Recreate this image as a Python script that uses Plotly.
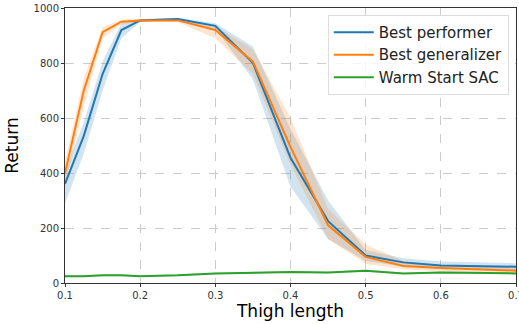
import plotly.graph_objects as go

thigh = [0.1, 0.125, 0.15, 0.175, 0.2, 0.25, 0.3, 0.35, 0.4, 0.45, 0.5, 0.55, 0.6, 0.7]

perf_mean = [360, 535, 760, 920, 955, 960, 935, 800, 455, 225, 100, 75, 64, 59]
perf_low = [290, 470, 700, 890, 950, 955, 925, 740, 350, 160, 80, 60, 50, 45]
perf_high = [410, 585, 805, 945, 960, 965, 945, 860, 560, 300, 120, 90, 78, 72]

gen_mean = [400, 700, 912, 950, 955, 955, 920, 805, 495, 210, 95, 62, 55, 45]
gen_low = [360, 640, 890, 940, 950, 948, 890, 760, 430, 160, 70, 50, 42, 35]
gen_high = [440, 745, 930, 958, 960, 960, 935, 850, 600, 270, 140, 80, 65, 55]

sac_mean = [25, 25, 28, 28, 25, 28, 35, 38, 40, 38, 45, 35, 38, 35]
sac_low = [22, 22, 25, 25, 22, 25, 32, 35, 36, 35, 41, 32, 35, 32]
sac_high = [28, 28, 31, 31, 28, 31, 38, 41, 44, 41, 49, 38, 41, 38]

x_ticks = [0.1, 0.2, 0.3, 0.4, 0.5, 0.6, 0.7]
x_tick_labels = ["0.1", "0.2", "0.3", "0.4", "0.5", "0.6", "0.7"]
y_ticks = [0, 200, 400, 600, 800, 1000]

series = [
    ("Best performer", perf_mean, perf_low, perf_high, "#1f77b4", "rgba(31,119,180,0.2)"),
    ("Best generalizer", gen_mean, gen_low, gen_high, "#ff7f0e", "rgba(255,127,14,0.2)"),
    ("Warm Start SAC", sac_mean, sac_low, sac_high, "#2ca02c", "rgba(44,160,44,0.2)"),
]

fig = go.Figure()
for name, m, lo, hi, col, fill in series:
    fig.add_trace(go.Scatter(x=thigh, y=lo, mode="lines", line=dict(width=0),
                             showlegend=False, hoverinfo="skip"))
    fig.add_trace(go.Scatter(x=thigh, y=hi, mode="lines", line=dict(width=0),
                             fill="tonexty", fillcolor=fill, showlegend=False, hoverinfo="skip"))
for name, m, lo, hi, col, fill in series:
    fig.add_trace(go.Scatter(x=thigh, y=m, mode="lines", name=name,
                             line=dict(color=col, width=2)))

axis_common = dict(
    showline=True, linecolor="#333333", linewidth=1, mirror=True,
    showgrid=True, gridcolor="#cccccc", griddash="dash", gridwidth=1,
    ticks="outside", ticklen=3, tickcolor="#333333",
    tickfont=dict(family="DejaVu Sans", size=10, color="#333333"),
    zeroline=False, ticklabeloverflow="allow", automargin=False,
)

fig.update_layout(
    width=519, height=324,
    margin=dict(l=65, r=3, t=8, b=41),
    paper_bgcolor="white", plot_bgcolor="white",
    xaxis=dict(range=[0.1, 0.7], tickvals=x_ticks, ticktext=x_tick_labels,
               title=dict(text="Thigh length", font=dict(family="DejaVu Sans", size=17, color="black"),
                          standoff=4),
               **axis_common),
    yaxis=dict(range=[0, 1000], tickvals=y_ticks,
               title=dict(text="Return", font=dict(family="DejaVu Sans", size=17, color="black"),
                          standoff=10),
               **axis_common),
    legend=dict(x=0.984, y=0.975, xanchor="right", yanchor="top",
                bgcolor="rgba(255,255,255,0.8)", bordercolor="#dddddd", borderwidth=1,
                font=dict(family="DejaVu Sans", size=15, color="#222222"),
                traceorder="normal", itemwidth=40, tracegroupgap=0),
    showlegend=True,
)

fig.write_html("out.html", config={"displayModeBar": False},
               post_script="document.body.style.margin='0';")
